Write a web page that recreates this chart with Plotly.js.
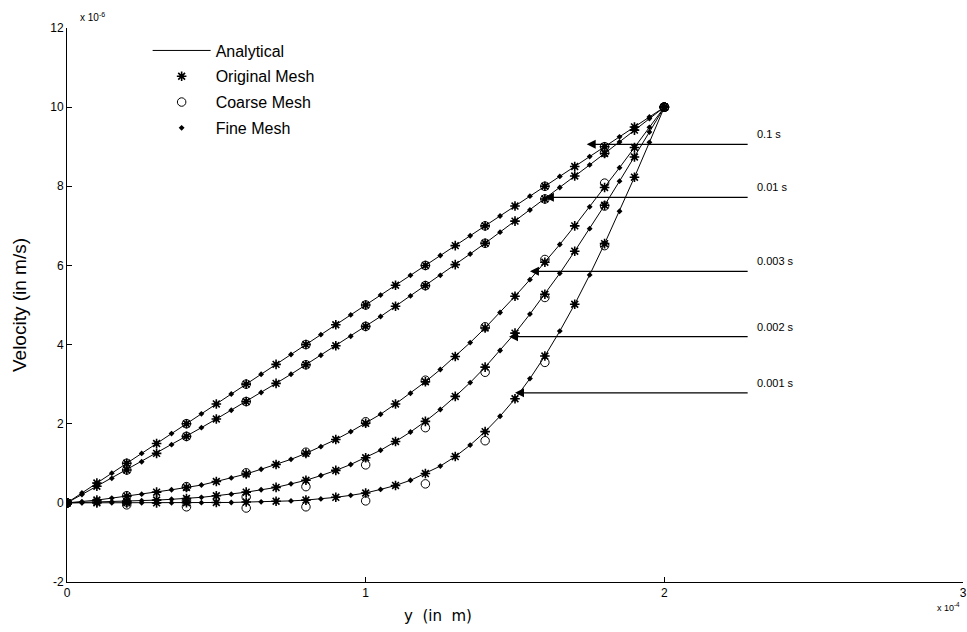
<!DOCTYPE html>
<html><head><meta charset="utf-8">
<script src="https://cdn.plot.ly/plotly-3.0.1.min.js"></script>
<style>html,body{margin:0;padding:0;background:#fff}#chart{width:967px;height:632px}</style>
</head><body><div id="chart"></div>
<script>
// x positions (units of 1e-4 m)
const xFine = [0,0.05,0.1,0.15,0.2,0.25,0.3,0.35,0.4,0.45,0.5,0.55,0.6,0.65,0.7,0.75,0.8,0.85,0.9,0.95,1.0,1.05,1.1,1.15,1.2,1.25,1.3,1.35,1.4,1.45,1.5,1.55,1.6,1.65,1.7,1.75,1.8,1.85,1.9,1.95,2.0];
const xOrig = [0,0.1,0.2,0.3,0.4,0.5,0.6,0.7,0.8,0.9,1.0,1.1,1.2,1.3,1.4,1.5,1.6,1.7,1.8,1.9,2.0];
const xCoarse = [0,0.2,0.4,0.6,0.8,1.0,1.2,1.4,1.6,1.8,2.0];

// velocity (units of 1e-6 m/s), fine mesh / analytical
const fine_t0100 = [0,0.25,0.5,0.75,1.0,1.25,1.5,1.75,2.0,2.25,2.5,2.75,3.0,3.25,3.5,3.75,4.0,4.25,4.5,4.75,5.0,5.25,5.5,5.75,6.0,6.25,6.5,6.75,7.0,7.25,7.5,7.75,8.0,8.25,8.5,8.75,9.0,9.25,9.5,9.75,10];
const fine_t0010 = [0,0.21,0.42,0.62,0.83,1.04,1.25,1.47,1.68,1.90,2.12,2.34,2.56,2.79,3.02,3.25,3.49,3.73,3.97,4.21,4.46,4.71,4.97,5.23,5.49,5.75,6.02,6.29,6.56,6.84,7.12,7.40,7.68,7.97,8.26,8.54,8.83,9.12,9.42,9.71,10];
const fine_t0003 = [0,0.03,0.07,0.12,0.17,0.22,0.27,0.33,0.39,0.45,0.54,0.63,0.73,0.85,0.97,1.10,1.25,1.42,1.60,1.80,2.01,2.24,2.50,2.77,3.06,3.37,3.70,4.05,4.42,4.81,5.22,5.64,6.08,6.53,7.00,7.48,7.97,8.47,8.98,9.49,10];
const fine_t0002 = [0,0.01,0.02,0.03,0.04,0.055,0.07,0.09,0.11,0.14,0.18,0.22,0.27,0.33,0.39,0.48,0.57,0.69,0.82,0.97,1.14,1.33,1.55,1.79,2.06,2.36,2.69,3.04,3.43,3.85,4.29,4.77,5.27,5.80,6.36,6.93,7.52,8.13,8.74,9.37,10];
const fine_t0001 = [0,0,0,0,0,0,0,0,0.003,0.005,0.01,0.01,0.02,0.025,0.04,0.05,0.07,0.10,0.14,0.19,0.25,0.34,0.44,0.57,0.74,0.93,1.17,1.46,1.80,2.19,2.63,3.14,3.71,4.34,5.02,5.76,6.55,7.37,8.23,9.11,10];

// original mesh
const orig_t0100 = [0,0.5,1.0,1.5,2.0,2.5,3.0,3.5,4.0,4.5,5.0,5.5,6.0,6.5,7.0,7.5,8.0,8.5,9.0,9.5,10];
const orig_t0010 = [0,0.42,0.83,1.25,1.68,2.12,2.56,3.02,3.49,3.97,4.46,4.97,5.49,6.02,6.56,7.12,7.68,8.26,8.83,9.42,10];
const orig_t0003 = [0,0.07,0.17,0.27,0.39,0.54,0.73,0.97,1.25,1.60,2.01,2.50,3.06,3.70,4.42,5.22,6.08,7.00,7.97,8.98,10];
const orig_t0002 = [0,0.02,0.04,0.07,0.11,0.18,0.27,0.39,0.57,0.82,1.14,1.55,2.06,2.69,3.43,4.29,5.27,6.36,7.52,8.74,10];
const orig_t0001 = [0,0,0,0,0.003,0.01,0.02,0.04,0.07,0.14,0.25,0.44,0.74,1.17,1.80,2.63,3.71,5.02,6.55,8.23,10];

// coarse mesh
const coarse_t0100 = [0,1.0,2.0,3.0,4.0,5.0,6.0,7.0,8.0,9.0,10];
const coarse_t0010 = [0,0.83,1.68,2.56,3.49,4.46,5.49,6.56,7.68,8.85,10];
const coarse_t0003 = [0,0.18,0.41,0.76,1.28,2.05,3.10,4.45,6.15,8.08,10];
const coarse_t0002 = [0,0.02,0.05,0.15,0.41,0.96,1.90,3.30,5.19,7.50,10];
const coarse_t0001 = [0,-0.05,-0.10,-0.13,-0.10,0.05,0.48,1.57,3.55,6.50,10];

const timeLabels = ['0.1 s','0.01 s','0.003 s','0.002 s','0.001 s'];
const xTicks = [0,1,2,3];
const yTicks = [-2,0,2,4,6,8,10,12];

const fineSets = [fine_t0100,fine_t0010,fine_t0003,fine_t0002,fine_t0001];
const origSets = [orig_t0100,orig_t0010,orig_t0003,orig_t0002,orig_t0001];
const coarseSets = [coarse_t0100,coarse_t0010,coarse_t0003,coarse_t0002,coarse_t0001];

const traces = [];
fineSets.forEach((v,i)=>traces.push({x:xFine,y:v,type:'scatter',mode:'lines',name:'Analytical',
  legendgroup:'a',showlegend:i===0,line:{color:'#000',width:1}}));
origSets.forEach((v,i)=>traces.push({x:xOrig,y:v,type:'scatter',mode:'markers',name:'Original Mesh',
  legendgroup:'o',showlegend:i===0,marker:{symbol:'asterisk-open',size:8,color:'#000',line:{color:'#000',width:1.6}}}));
coarseSets.forEach((v,i)=>traces.push({x:xCoarse,y:v,type:'scatter',mode:'markers',name:'Coarse Mesh',
  legendgroup:'c',showlegend:i===0,marker:{symbol:'circle-open',size:8.5,color:'#000',line:{color:'#000',width:1}}}));
fineSets.forEach((v,i)=>traces.push({x:xFine,y:v,type:'scatter',mode:'markers',name:'Fine Mesh',
  legendgroup:'f',showlegend:i===0,marker:{symbol:'diamond',size:4.5,color:'#000'}}));

// arrow tips (pointing into curves) and tails
const arrowTip = [[1.74,9.06],[1.60,7.72],[1.55,5.85],[1.48,4.20],[1.50,2.78]];
const annotations = [];
timeLabels.forEach((t,i)=>{
  annotations.push({x:arrowTip[i][0],y:arrowTip[i][1],ax:2.284,ay:arrowTip[i][1],xref:'x',yref:'y',axref:'x',ayref:'y',
    text:'',showarrow:true,arrowhead:2,arrowsize:1.5,arrowwidth:1.2,arrowcolor:'#000',standoff:0});
  annotations.push({x:2.305,y:arrowTip[i][1],xref:'x',yref:'y',text:t,showarrow:false,xanchor:'left',yanchor:'bottom',yshift:2,
    font:{family:'Liberation Sans, Arial, sans-serif',size:11,color:'#000'}});
});
annotations.push({x:0.012,y:1.0,xref:'paper',yref:'paper',xanchor:'left',yanchor:'bottom',yshift:3,showarrow:false,
  text:'x 10<sup>-6</sup>',font:{family:'Liberation Sans, Arial, sans-serif',size:10,color:'#000'}});
annotations.push({x:0.999,y:-0.03,xref:'paper',yref:'paper',xanchor:'right',yanchor:'top',showarrow:false,
  text:'x 10<sup>-4</sup>',font:{family:'Liberation Sans, Arial, sans-serif',size:9,color:'#000'}});
annotations.push({x:0.414,y:-0.062,xref:'paper',yref:'paper',xanchor:'center',yanchor:'middle',showarrow:false,
  text:'y  (in  m)',font:{family:'DejaVu Sans, sans-serif',size:15,color:'#000'}});

const layout = {
  width:967,height:632,paper_bgcolor:'#fff',plot_bgcolor:'#fff',
  margin:{l:67,r:4,t:28,b:50},
  font:{family:'Liberation Sans, Arial, sans-serif',color:'#000'},
  xaxis:{range:[0,3],tickvals:xTicks,ticktext:xTicks.map(String),showgrid:false,zeroline:false,showline:true,linecolor:'#000',linewidth:1,
    ticks:'inside',ticklen:5,tickcolor:'#000',tickfont:{size:12},mirror:false},
  yaxis:{range:[-2,12],tickvals:yTicks,ticktext:yTicks.map(String),showgrid:false,zeroline:false,showline:true,linecolor:'#000',linewidth:1,
    ticks:'inside',ticklen:5,tickcolor:'#000',tickfont:{size:12},
    title:{text:'Velocity (in m/s)',font:{size:19},standoff:18}},
  showlegend:true,
  legend:{x:0.09,y:0.99,xanchor:'left',yanchor:'top',traceorder:'grouped',tracegroupgap:2,
    font:{size:16,color:'#000'},bgcolor:'rgba(0,0,0,0)',itemwidth:58},
  annotations:annotations
};
Plotly.newPlot('chart',traces,layout,{displayModeBar:false,staticPlot:true});
</script></body></html>
